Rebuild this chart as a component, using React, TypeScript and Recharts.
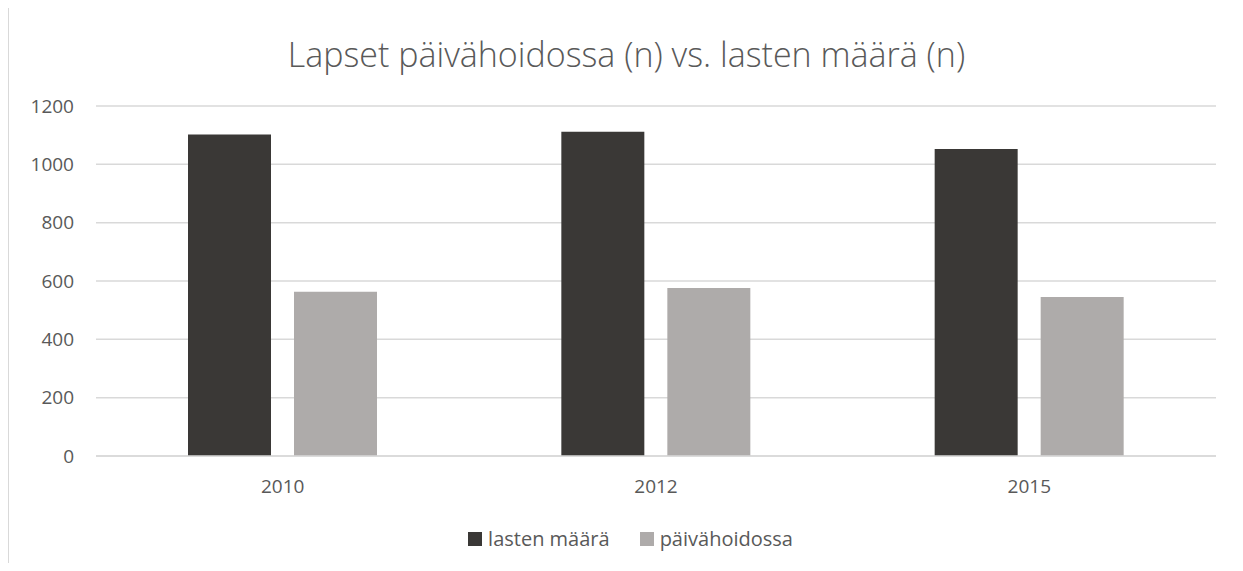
import { BarChart, Bar, XAxis, YAxis, CartesianGrid, Legend } from 'recharts';

const years = ['2010', '2012', '2015'];
const lastenMaara = [1102, 1112, 1053];
const paivahoidossa = [563, 576, 545];
const yTicks = [0, 200, 400, 600, 800, 1000, 1200];

const data = years.map((year, i) => ({
    year,
    lasten: lastenMaara[i],
    paiva: paivahoidossa[i],
}));

const textColor = '#595959';
const font = '"Open Sans", "Noto Sans", sans-serif';

const renderLegend = (props: any) => {
    const { payload } = props;
    return (
        <div style={{ display: 'flex', justifyContent: 'center', paddingLeft: 18, fontFamily: font }}>
            {payload.map((entry: any, index: number) => (
                <div key={index} style={{ display: 'flex', alignItems: 'center', marginRight: index === 0 ? 30 : 0 }}>
                    <span style={{ display: 'inline-block', width: 14, height: 14, background: entry.color, marginRight: 6 }} />
                    <span style={{ fontSize: 20, color: textColor }}>{entry.value}</span>
                </div>
            ))}
        </div>
    );
};

const App = () => {
    return (
        <div style={{ position: 'relative', width: 1243, height: 571, margin: -8, background: '#fff', overflow: 'hidden' }}>
            <div
                style={{
                    position: 'absolute',
                    left: 8,
                    top: 7,
                    width: 1300,
                    height: 600,
                    borderTop: '1.5px solid #d9d9d9',
                    borderLeft: '1.5px solid #d9d9d9',
                }}
            />
            <div
                style={{
                    position: 'absolute',
                    top: 31,
                    left: 0,
                    width: 1253,
                    textAlign: 'center',
                    fontFamily: font,
                    fontWeight: 300,
                    fontSize: 34,
                    color: textColor,
                }}
            >
                Lapset päivähoidossa (n) vs. lasten määrä (n)
            </div>
            <BarChart
                width={1243}
                height={571}
                data={data}
                margin={{ top: 106, right: 27, left: 0, bottom: 85 }}
                barSize={83}
                barGap={23}
                style={{ position: 'absolute', top: 0, left: 0, fontFamily: font }}
            >
                <CartesianGrid vertical={false} stroke="#d9d9d9" strokeWidth={1.5} />
                <XAxis
                    dataKey="year"
                    axisLine={{ stroke: '#d9d9d9', strokeWidth: 1.5 }}
                    tickLine={false}
                    tickSize={0}
                    tickMargin={24}
                    height={30}
                    tick={{ fill: textColor, fontSize: 19 }}
                />
                <YAxis
                    width={96}
                    domain={[0, 1200]}
                    ticks={yTicks}
                    axisLine={false}
                    tickLine={false}
                    tickSize={0}
                    tickMargin={22}
                    tick={{ fill: textColor, fontSize: 19 }}
                />
                <Legend
                    verticalAlign="middle"
                    content={renderLegend}
                    wrapperStyle={{ top: 525, left: 0, width: 1243 }}
                />
                <Bar dataKey="lasten" name="lasten määrä" fill="#3a3836" isAnimationActive={false} />
                <Bar dataKey="paiva" name="päivähoidossa" fill="#aeabaa" isAnimationActive={false} />
            </BarChart>
        </div>
    );
};

export default App;
